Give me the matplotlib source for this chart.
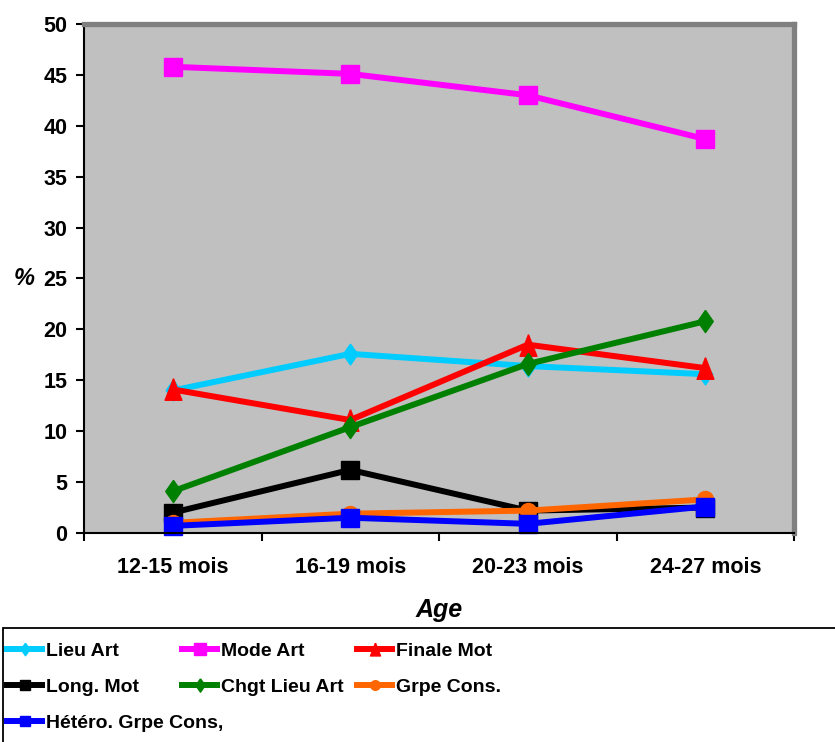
import matplotlib.pyplot as plt
import matplotlib.patches as mpatches
import numpy as np

# data
ages = ['12-15 mois', '16-19 mois', '20-23 mois', '24-27 mois']
lieu_art = [14.0, 17.6, 16.4, 15.6]
mode_art = [45.8, 45.1, 43.0, 38.7]
finale_mot = [14.1, 11.1, 18.5, 16.2]
long_mot = [2.0, 6.2, 2.2, 2.5]
chgt_lieu_art = [4.1, 10.4, 16.6, 20.8]
grpe_cons = [1.0, 1.9, 2.2, 3.3]
hetero_grpe_cons = [0.7, 1.5, 0.9, 2.6]

names = ['Lieu Art', 'Mode Art', 'Finale Mot', 'Long. Mot',
         'Chgt Lieu Art', 'Grpe Cons.', 'Hétéro. Grpe Cons,']
series = [lieu_art, mode_art, finale_mot, long_mot,
          chgt_lieu_art, grpe_cons, hetero_grpe_cons]

# marker shapes like the Excel ones (tall diamond, tall triangle)
tall_diamond = [(0, 1), (0.7, 0), (0, -1), (-0.7, 0), (0, 1)]
tall_triangle = [(0, 1), (-0.78, -1), (0.78, -1), (0, 1)]
styles = [
    dict(color='#00CCFF', marker=tall_diamond, ms=15),
    dict(color='#FF00FF', marker='s', ms=13.5),
    dict(color='#FF0000', marker=tall_triangle, ms=15.5),
    dict(color='#000000', marker='s', ms=12.5),
    dict(color='#008000', marker=tall_diamond, ms=16),
    dict(color='#FF6600', marker='o', ms=11.5),
    dict(color='#0000FF', marker='s', ms=12.5),
]

plt.rcParams['font.family'] = ['Liberation Sans', 'DejaVu Sans']

fig = plt.figure(figsize=(8.35, 7.42), dpi=100)
ax = fig.add_axes([84 / 835, 209 / 742, 710 / 835, 509 / 742])
ax.set_facecolor('#C0C0C0')

x = np.arange(len(ages))
lines = []
for name, vals, st in zip(names, series, styles):
    ln, = ax.plot(x, vals, color=st['color'], lw=4.3, marker=st['marker'],
                  ms=st['ms'], mec=st['color'], mfc=st['color'], label=name,
                  clip_on=False)
    lines.append(ln)

ax.set_xlim(-0.5, 3.5)
ax.set_ylim(0, 50)
ax.set_yticks(range(0, 51, 5))
ax.set_xticks(x)
ax.set_xticklabels(ages)
ax.set_xticks(np.arange(-0.5, 3.6, 1), minor=True)
ax.tick_params(axis='x', which='major', length=0, pad=17)
ax.tick_params(axis='x', which='minor', length=6, width=1.5, direction='out')
ax.tick_params(axis='y', length=6, width=1.5, pad=6)
for lab in ax.get_xticklabels() + ax.get_yticklabels():
    lab.set_fontweight('bold')
    lab.set_fontsize(15.5)

for side in ['top', 'right']:
    ax.spines[side].set_color('#808080')
    ax.spines[side].set_linewidth(3.8)
for side in ['left', 'bottom']:
    ax.spines[side].set_color('black')
    ax.spines[side].set_linewidth(1.5)

ax.set_xlabel('Age', fontsize=18, fontweight='bold', fontstyle='italic', labelpad=15)
ax.set_ylabel('%', fontsize=17, fontweight='bold', fontstyle='italic', rotation=0,
              labelpad=14, va='center')

# legend box across the bottom
fig.patches.append(mpatches.Rectangle((3 / 835, -0.01), 0.999, (742 - 628) / 742 + 0.01,
                                      transform=fig.transFigure, fill=False,
                                      ec='black', lw=1.3))

leg_font = dict(family=['Liberation Sans'], weight='bold', size=14)
col_x = [7, 182, 357]
for c in range(3):
    hs = lines[c::3]
    legend = fig.legend(handles=hs, labels=[h.get_label() for h in hs],
                        loc='upper left', bbox_to_anchor=(col_x[c] / 835, 1 - 642 / 742),
                        frameon=False, prop=leg_font, borderpad=0, borderaxespad=0,
                        handlelength=1.8, handletextpad=0.2, labelspacing=0.95,
                        markerscale=0.6)

fig.savefig('out.png', dpi=100)
